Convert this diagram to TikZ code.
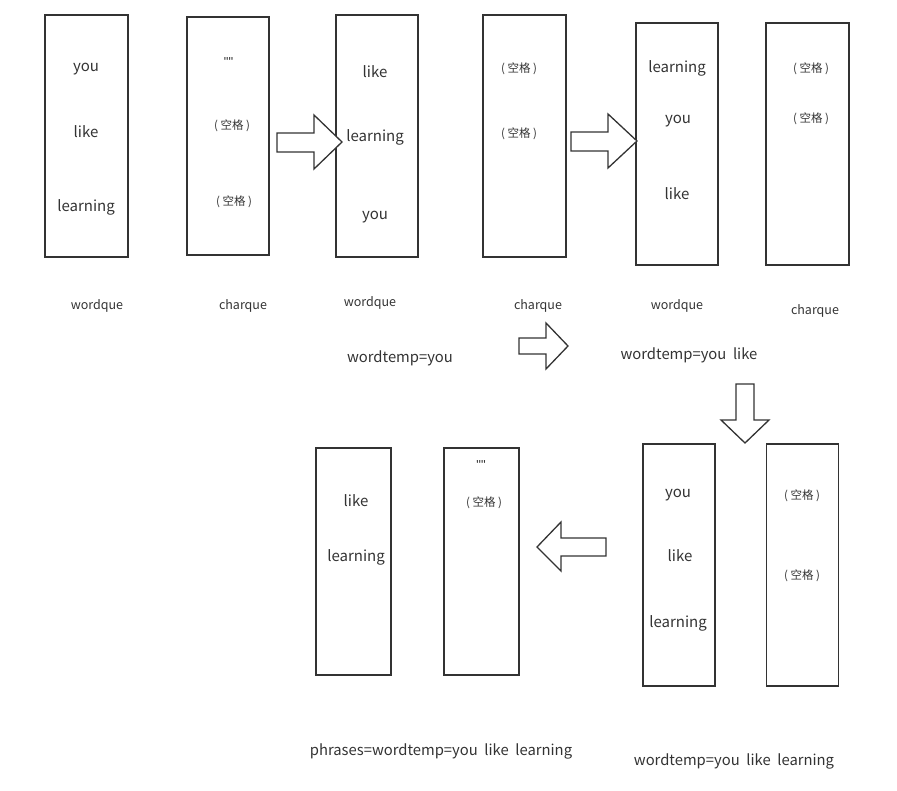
\documentclass[tikz,border=0pt]{standalone}
\usepackage{fontspec}
\setmainfont{Noto Sans CJK SC}
\newfontfamily\quotefont{Liberation Sans}
\usetikzlibrary{positioning}
\definecolor{inkgray}{HTML}{333333}

\begin{document}
\begin{tikzpicture}[x=1pt, y=-1pt, line join=miter]
	\tikzstyle{queuebox} = [draw=inkgray, line width=1.3pt, inner sep=0pt, minimum width=83pt, minimum height=242pt]
	\tikzstyle{wordtext}  = [text=inkgray, font=\fontsize{15}{15}\selectfont, inner sep=0pt, anchor=base]
	\tikzstyle{blanktext} = [text=inkgray, font=\fontsize{11.5}{11.5}\selectfont, inner sep=0pt, anchor=base]
	\tikzstyle{quotetext} = [text=inkgray, font=\quotefont\fontsize{13}{13}\selectfont, inner sep=0pt]
	\tikzstyle{qlabel}  = [text=inkgray, font=\fontsize{12.5}{12.5}\selectfont, inner sep=0pt, anchor=base]
	\tikzstyle{templabel} = [text=inkgray, font=\fontsize{14.8}{14.8}\selectfont, inner sep=0pt, anchor=base]
	\tikzstyle{fatarrow}   = [draw=inkgray, line width=1.3pt, fill=white]
	
	\useasboundingbox (0,0) rectangle (897,791);
	
	% first row: queues
	\node[queuebox] 	at (86.5, 136) 		(wq1) 	{};
	\node[queuebox, minimum width=82pt, minimum height=238pt] 	at (228, 136) 	(cq1) 	{};
	\node[queuebox, minimum width=82pt] 	at (377, 136) 		(wq2) 	{};
	\node[queuebox] 	at (524.5, 136) 	(cq2) 	{};
	\node[queuebox, minimum width=82pt] 	at (677, 144) 		(wq3) 	{};
	\node[queuebox] 	at (807.5, 144) 	(cq3) 	{};
	
	% second row: queues
	\node[queuebox, minimum width=75pt, minimum height=227pt] 	at (353.5, 561.5) 	(wq5) 	{};
	\node[queuebox, minimum width=75pt, minimum height=227pt] 	at (481.5, 561.5) 	(cq5) 	{};
	\node[queuebox, minimum width=72pt] 	at (679, 565) 		(wq4) 	{};
	\node[queuebox, minimum width=72pt] 	at (802.7, 565) 	(cq4) 	{};
	
	% contents
	\node[wordtext] 	at (86, 72) 		(wq1a) 	{you};
	\node[wordtext] 	at (86, 138) 		(wq1b) 	{like};
	\node[wordtext] 	at (86, 212) 		(wq1c) 	{learning};
	\node[quotetext] 	at (228.5, 62) 		(cq1a) 	{""};
	\node[blanktext] 	at (232, 130) 		(cq1b) 	{(\ 空格\ )};
	\node[blanktext] 	at (234, 206) 		(cq1c) 	{(\ 空格\ )};
	
	\node[wordtext] 	at (375, 78) 		(wq2a) 	{like};
	\node[wordtext] 	at (375, 141.5) 	(wq2b) 	{learning};
	\node[wordtext] 	at (375, 220) 		(wq2c) 	{you};
	\node[blanktext] 	at (519, 73) 		(cq2a) 	{(\ 空格\ )};
	\node[blanktext] 	at (519, 138) 		(cq2b) 	{(\ 空格\ )};
	
	\node[wordtext] 	at (677, 73) 		(wq3a) 	{learning};
	\node[wordtext] 	at (678, 123.5) 	(wq3b) 	{you};
	\node[wordtext] 	at (677, 200) 		(wq3c) 	{like};
	\node[blanktext] 	at (811, 73) 		(cq3a) 	{(\ 空格\ )};
	\node[blanktext] 	at (811, 123) 		(cq3b) 	{(\ 空格\ )};
	
	\node[wordtext] 	at (678, 497) 		(wq4a) 	{you};
	\node[wordtext] 	at (680, 561) 		(wq4b) 	{like};
	\node[wordtext] 	at (678, 627.5) 	(wq4c) 	{learning};
	\node[blanktext] 	at (802, 499) 		(cq4a) 	{(\ 空格\ )};
	\node[blanktext] 	at (802, 579) 		(cq4b) 	{(\ 空格\ )};
	
	\node[wordtext] 	at (356, 506.5) 	(wq5a) 	{like};
	\node[wordtext] 	at (356, 561) 		(wq5b) 	{learning};
	\node[quotetext] 	at (481, 465) 		(cq5a) 	{""};
	\node[blanktext] 	at (484, 506) 		(cq5b) 	{(\ 空格\ )};
	
	% names under the queues
	\node[qlabel] 	at (97, 310) 		(n1) 	{wordque};
	\node[qlabel] 	at (243, 310) 		(n2) 	{charque};
	\node[qlabel] 	at (370, 307) 		(n3) 	{wordque};
	\node[qlabel] 	at (538, 310) 		(n4) 	{charque};
	\node[qlabel] 	at (677, 310) 		(n5) 	{wordque};
	\node[qlabel] 	at (815, 315) 		(n6) 	{charque};
	
	\node[templabel] 	at (400, 363) 		(s1) 	{wordtemp=you};
	\node[templabel] 	at (689, 360) 		(s2) 	{wordtemp=you\ \ like};
	\node[templabel] 	at (734, 765) 		(s3) 	{wordtemp=you\ \ like\ \ learning};
	\node[templabel] 	at (441, 755.5) 	(s4) 	{phrases=wordtemp=you\ \ like\ \ learning};
	
	% block arrows
	\draw[fatarrow] (277,133) -- (314,133) -- (314,115) -- (342,142) -- (314,169) -- (314,152) -- (277,152) -- cycle;
	\draw[fatarrow] (571,132) -- (608,132) -- (608,114) -- (637,141) -- (608,168) -- (608,151) -- (571,151) -- cycle;
	\draw[fatarrow] (519,338) -- (546,338) -- (546,323) -- (568,346) -- (546,369) -- (546,354) -- (519,354) -- cycle;
	\draw[fatarrow] (736,384) -- (754,384) -- (754,420) -- (769,420) -- (745,443) -- (721,420) -- (736,420) -- cycle;
	\draw[fatarrow] (606,538) -- (561,538) -- (561,522) -- (537,547) -- (561,571) -- (561,556) -- (606,556) -- cycle;
\end{tikzpicture}
\end{document}
